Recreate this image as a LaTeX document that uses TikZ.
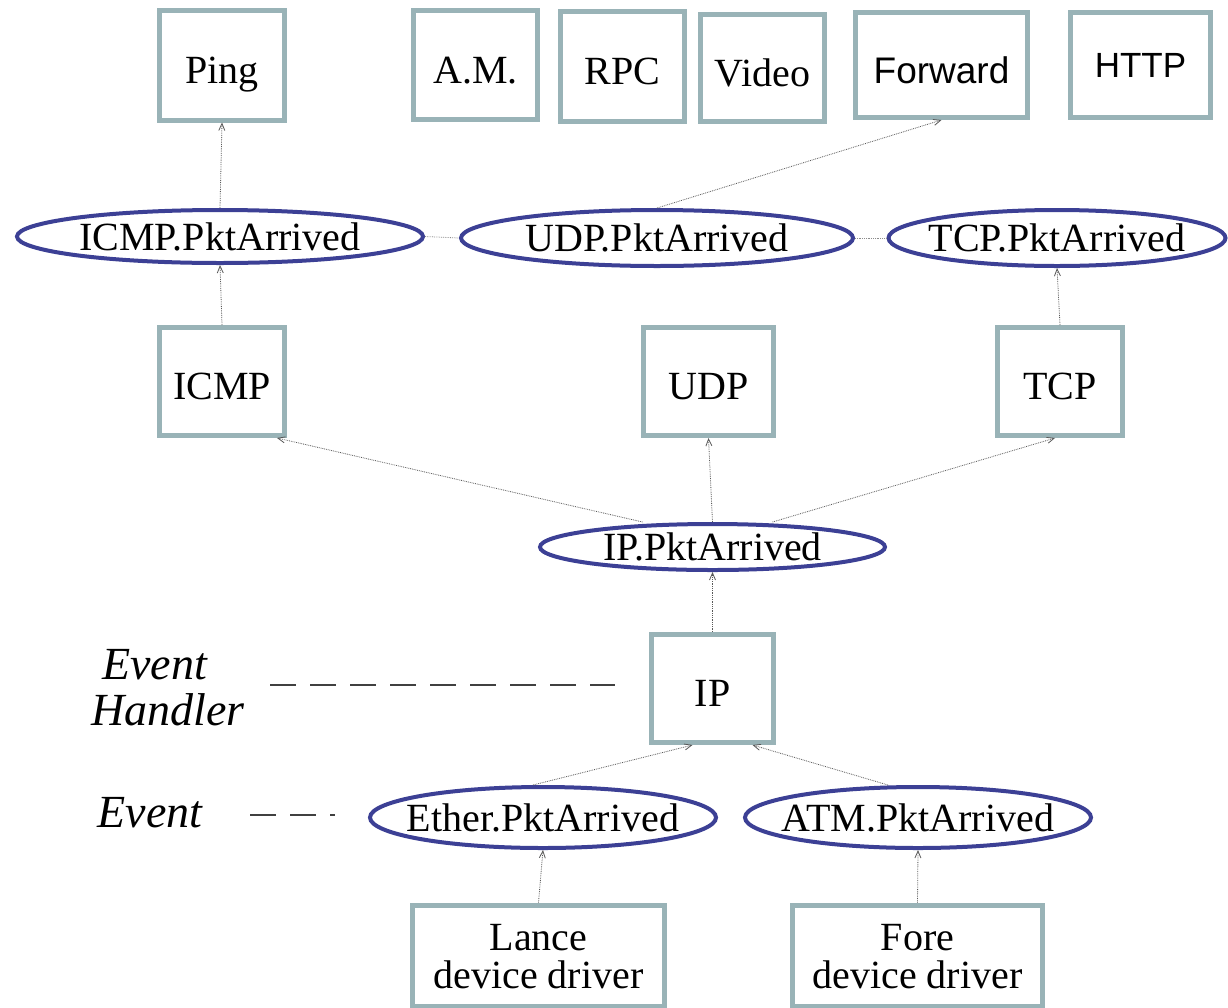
\documentclass[tikz,border=0pt]{standalone}
\usepackage{fontspec}
\setmainfont{Liberation Serif}
\setsansfont{Liberation Sans}
\usetikzlibrary{shapes.geometric,arrows.meta}
\definecolor{boxgrey}{HTML}{99B3B7}
\definecolor{evblue}{HTML}{3C4095}
\tikzset{
  box/.style={rectangle, draw=boxgrey, line width=5pt, fill=white, inner sep=0pt,
    font=\fontsize{40}{38}\selectfont, align=center, text height=40pt, text depth=4pt},
  drvbox/.style={box, text height=66pt, text depth=-12pt},
  sbox/.style={box, font=\sffamily\fontsize{37}{38}\selectfont},
  evt/.style={ellipse, draw=evblue, line width=4pt, inner sep=0pt},
  evlbl/.style={font=\fontsize{40}{44}\selectfont, inner sep=0pt},
  conn/.style={draw=black!65, line width=0.8pt, densely dotted,
    -{Straight Barb[length=7pt,width=6pt]}},
  faint/.style={draw=black!45, line width=0.8pt, densely dotted},
  lgd/.style={draw=black!75, line width=1.2pt, dash pattern=on 26pt off 14pt},
  lgdtxt/.style={font=\itshape\fontsize{46}{46}\selectfont, align=left, inner sep=0pt}
}
\begin{document}
\begin{tikzpicture}[x=1pt,y=-1pt]
\useasboundingbox[fill=white] (0,0) rectangle (1228,1007);
% top row boxes
\node[box, minimum width=125pt, minimum height=110pt] (ping) at (222,65) {Ping};
\node[box, minimum width=124pt, minimum height=109pt] (am) at (475.5,65) {A.M.};
\node[box, minimum width=124pt, minimum height=110pt] (rpc) at (622.5,66.5) {RPC};
\node[box, minimum width=124pt, minimum height=107pt] (video) at (762.5,68) {Video};
\node[sbox, minimum width=172pt, minimum height=105pt] (forward) at (941.5,65) {Forward};
\node[sbox, minimum width=140pt, minimum height=105pt, text height=34pt, text depth=10pt,
  font=\sffamily\fontsize{35}{38}\selectfont] (http) at (1140.5,65) {HTTP};
% upper events
\node[evt, minimum width=406pt, minimum height=53pt, label={[evlbl]center:ICMP.PktArrived}] (icmpe) at (220,236.5) {};
\node[evt, minimum width=392pt, minimum height=56pt, label={[evlbl]center:UDP.PktArrived}] (udpe) at (657,238) {};
\node[evt, minimum width=337pt, minimum height=56pt, label={[evlbl]center:TCP.PktArrived}] (tcpe) at (1057,238) {};
% protocol boxes
\node[box, minimum width=125pt, minimum height=108pt] (icmp) at (222,381.5) {ICMP};
\node[box, minimum width=130pt, minimum height=108pt] (udp) at (708.5,381.5) {UDP};
\node[box, minimum width=125pt, minimum height=108pt] (tcp) at (1060,381.5) {TCP};
% IP event and handler
\node[evt, minimum width=345pt, minimum height=46pt, label={[evlbl]center:IP.PktArrived}] (ipe) at (712.5,547) {};
\node[box, minimum width=122pt, minimum height=108pt] (ip) at (712.5,688.5) {IP};
% link events
\node[evt, minimum width=346pt, minimum height=61pt, label={[evlbl]center:Ether.PktArrived}] (ethere) at (543,817.5) {};
\node[evt, minimum width=346pt, minimum height=61pt, label={[evlbl]center:ATM.PktArrived}] (atme) at (918,817.5) {};
% drivers
\node[drvbox, minimum width=252pt, minimum height=101pt] (lance) at (538.5,955.5) {Lance\\device driver};
\node[drvbox, minimum width=250pt, minimum height=101pt] (fore) at (917.5,955.5) {Fore\\device driver};
% legend
\node[lgdtxt] (lgdh) at (168,688) {\hspace*{11pt}Event\\Handler};
\node[lgdtxt] (lgde) at (150,813) {Event};
\coordinate (lgdhstart) at (270,685);
\coordinate (lgdhend) at (615,685);
\coordinate (lgdestart) at (250,815);
\coordinate (lgdeend) at (335,815);
\draw[lgd] (lgdhstart) -- (lgdhend);
\draw[lgd] (lgdestart) -- (lgdeend);
% connectors
\draw[conn] (icmpe.north) -- (ping.south);
\draw[conn] (icmp.north) -- (icmpe.south);
\draw[conn] (udpe.north) -- (forward.south);
\draw[conn] (tcp.north) -- (tcpe.south);
\draw[faint] (icmpe.east) -- (udpe.west);
\draw[faint] (udpe.east) -- (tcpe.west);
\draw[conn] (ipe.north) -- (udp.south);
\draw[conn] ([xshift=-70pt]ipe.north) -- ([xshift=55pt]icmp.south);
\draw[conn] ([xshift=60pt]ipe.north) -- ([xshift=-5pt]tcp.south);
\draw[conn] (ip.north) -- (ipe.south);
\draw[conn] ([xshift=-10pt]ethere.north) -- ([xshift=-20pt]ip.south);
\draw[conn] ([xshift=-30pt]atme.north) -- ([xshift=40pt]ip.south);
\draw[conn] (lance.north) -- (ethere.south);
\draw[conn] (fore.north) -- (atme.south);
\end{tikzpicture}
\end{document}
